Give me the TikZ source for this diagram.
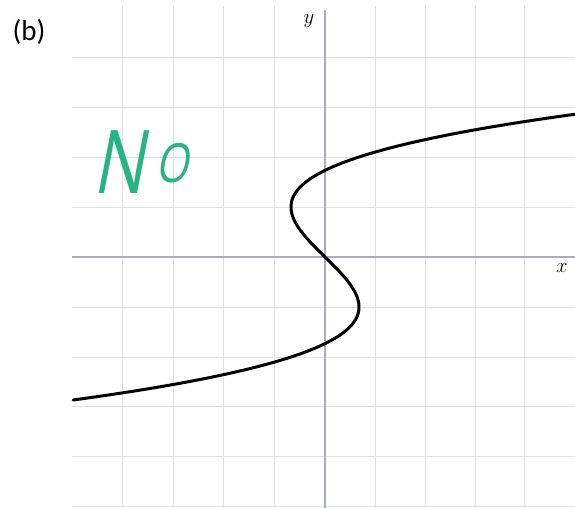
\documentclass[tikz,border=0pt]{standalone}
\usepackage{fontspec}
\newfontfamily\labelfont{Carlito}
\newfontfamily\handfont{Open Sans}
\definecolor{gridc}{RGB}{224,224,232}
\definecolor{axisc}{RGB}{172,172,192}
\definecolor{inkgreen}{RGB}{40,180,130}
\tikzset{
  gridline/.style={draw=gridc, line width=0.8pt},
  axisline/.style={draw=axisc, line width=1.3pt},
  curveline/.style={draw=black, line width=3pt, line cap=round},
  axislabel/.style={inner sep=0pt, font=\fontsize{22}{22}\selectfont},
}
\begin{document}
\begin{tikzpicture}[x=1pt,y=-1pt]
\useasboundingbox[fill=white] (0,0) rectangle (575,508);
% grid
\foreach \gx in {122,173,223,274,375,425,475,524}
  \draw[gridline] (\gx,6) -- (\gx,508);
\foreach \gy in {57,107,157,207,307,357,406,456,506}
  \draw[gridline] (72,\gy) -- (575,\gy);
% axes
\coordinate (xl) at (72,257);
\coordinate (xr) at (575,257);
\coordinate (yt) at (325,10);
\coordinate (yb) at (325,508);
\draw[axisline] (xl) -- (xr);
\draw[axisline] (yt) -- (yb);
% labels
\node[axislabel] (ylab) at (309,21) {$y$};
\node[axislabel] (xlab) at (562,268) {$x$};
\node[inner sep=0pt, font=\labelfont\fontsize{29}{29}\selectfont] (blab) at (29,32) {(b)};
\node[inner sep=0pt, anchor=base west, text=inkgreen, xscale=0.78, xslant=0.25,
      font=\handfont\fontsize{88}{88}\selectfont] (no) at (92,193)
  {N\hspace{12pt}\raisebox{11pt}{\fontsize{54}{54}\selectfont O}};
% curve
\draw[curveline] plot[domain=-2.86:2.86, samples=150, smooth]
  ({325+50*(0.34*\x*\x*\x-1.02*\x)}, {257-50*\x});
\end{tikzpicture}
\end{document}
